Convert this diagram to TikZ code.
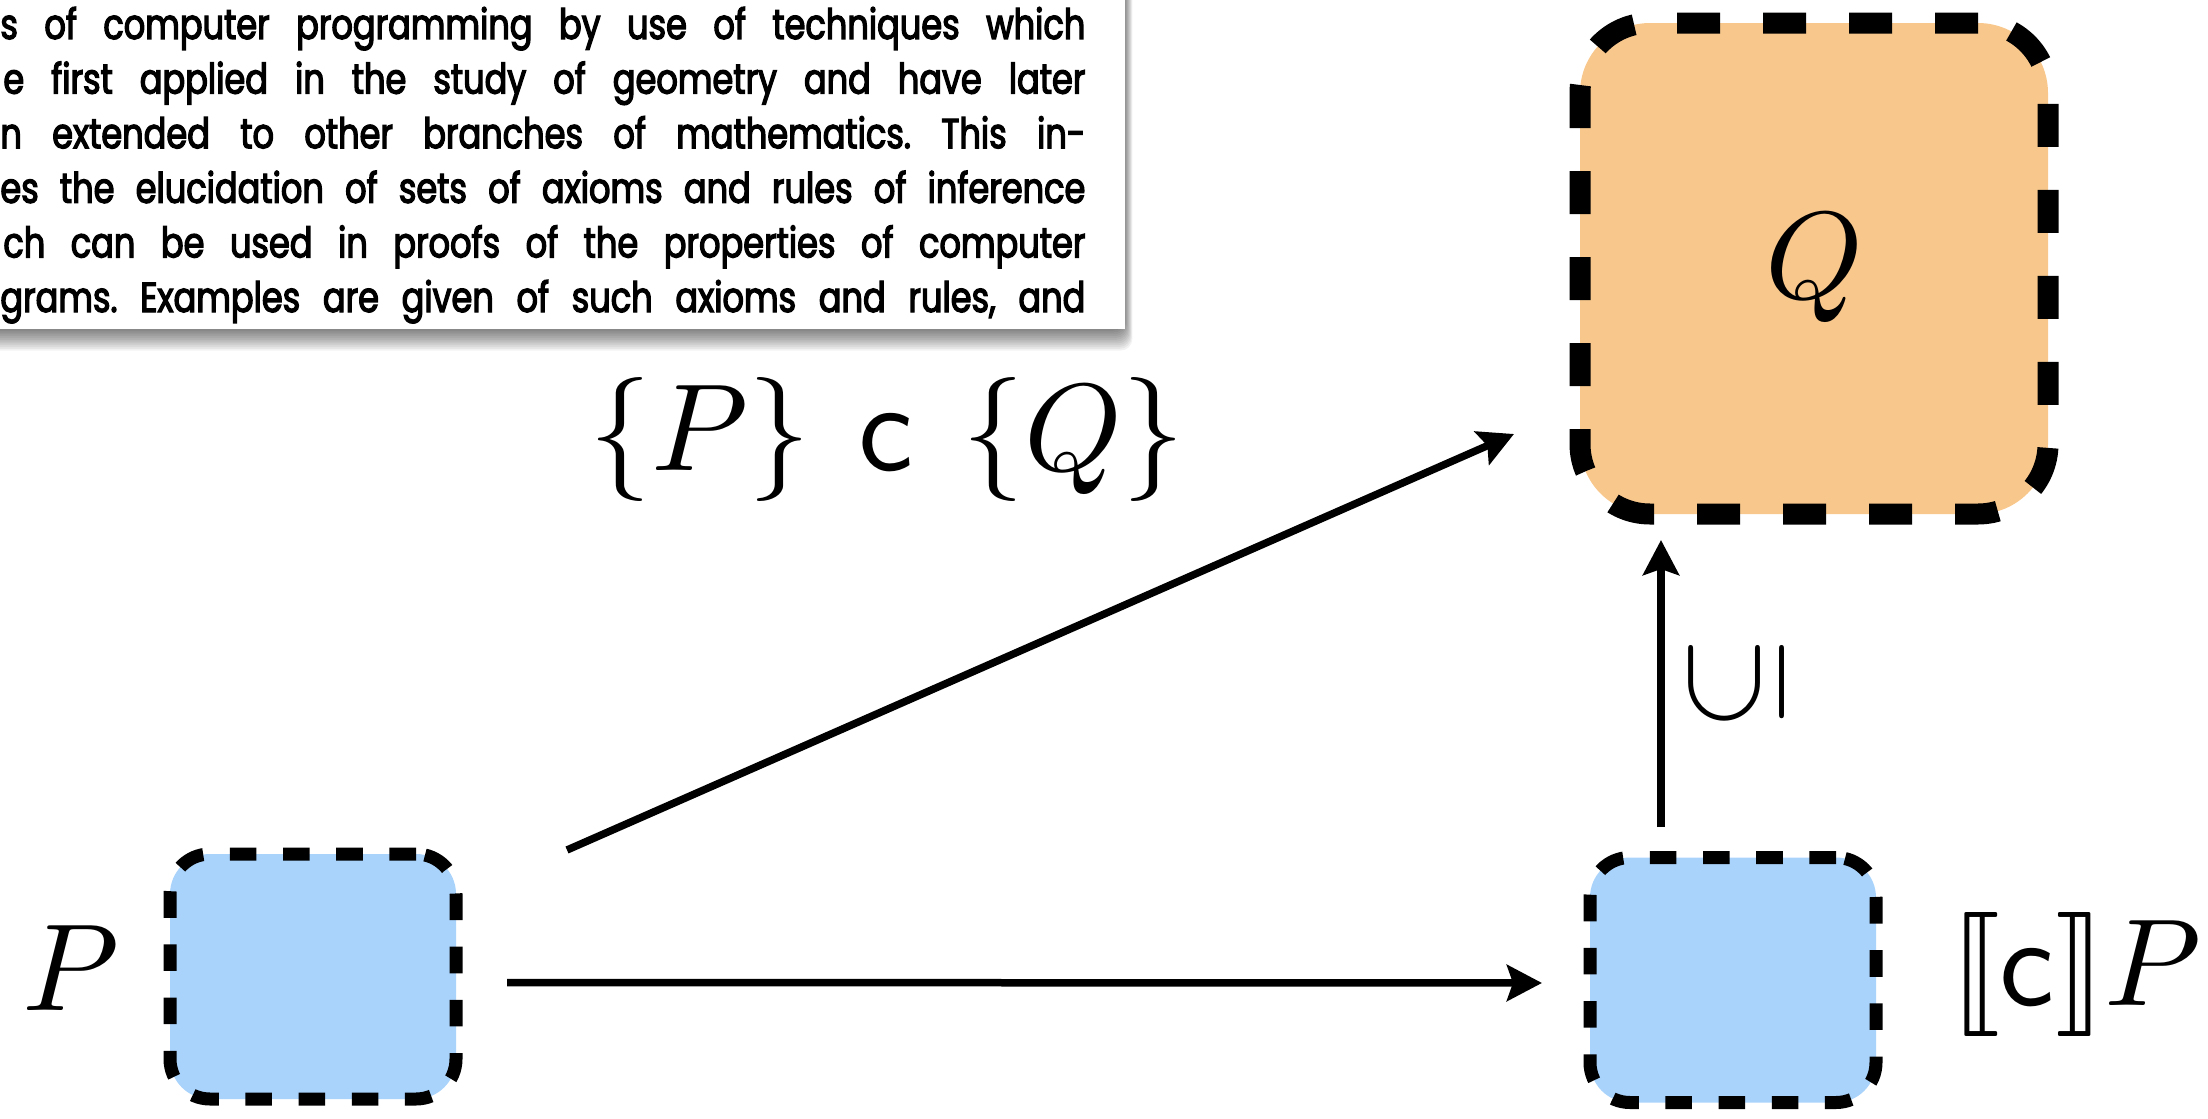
\documentclass[tikz,border=0pt]{standalone}
\usepackage{fontspec}
\usepackage{stmaryrd}
\usepackage{graphicx}
\usetikzlibrary{arrows.meta,calc}
\newfontfamily\futura[FakeStretch=0.80,FakeBold=3]{Poppins}
\definecolor{qorange}{RGB}{248,199,140}
\definecolor{pblue}{RGB}{169,211,251}
\tikzset{
  bigbox/.style={draw=black, fill=qorange, line width=10.5pt, dash pattern=on 21.5pt off 21.5pt,
    rounded corners=35pt, minimum width=234pt, minimum height=245.5pt, inner sep=0pt, outer sep=0pt},
  smallbox/.style={draw=black, fill=pblue, line width=6.5pt, dash pattern=on 13.3pt off 13.3pt,
    rounded corners=20pt, minimum width=143pt, minimum height=122.5pt, inner sep=0pt, outer sep=0pt},
  arr/.style={line width=3.75pt, -{Stealth[length=17.5pt,width=18pt,inset=3pt]}},
  mathlab/.style={inner sep=0pt, outer sep=0pt},
  txtline/.style={anchor=base west, inner sep=0pt, font=\futura\fontsize{21}{24}\selectfont\frenchspacing}
}
\begin{document}
\begin{tikzpicture}[x=0.5pt,y=-0.5pt]
\useasboundingbox (0,0) rectangle (2208,1119);
% text box shadow
\foreach \i in {1,...,12}{
  \fill[black, opacity=0.05, rounded corners=6pt] (-30,-30) rectangle (1124+\i*0.7, 329+\i*1.8);
}
\fill[white] (-30,-30) rectangle (1125,329);
\node[txtline] (t1) at (0,39) {\makebox[542.5pt][s]{s of computer programming by use of techniques which}};
\node[txtline] (t2) at (3,93.6) {\makebox[541pt][s]{e first applied in the study of geometry and have later}};
\node[txtline] (t3) at (0,148.2) {\makebox[542.5pt][s]{n extended to other branches of mathematics. This in-}};
\node[txtline] (t4) at (0,202.8) {\makebox[542.5pt][s]{es the elucidation of sets of axioms and rules of inference}};
\node[txtline] (t5) at (3,257.4) {\makebox[541pt][s]{ch can be used in proofs of the properties of computer}};
\node[txtline] (t6) at (0,312) {\makebox[542.5pt][s]{grams. Examples are given of such axioms and rules, and}};
% boxes
\node[bigbox] (qbox) at (1814,268.5) {\scalebox{6.2}{$Q$}};
\node[smallbox] (pbox) at (313,976.5) {};
\node[smallbox] (cbox) at (1733,980) {};
% labels
\node[mathlab, anchor=base west] (plab) at (22,1010) {\scalebox{6.2}{$P$}};
\node[mathlab, anchor=base west] (cplab) at (1950,1005) {\scalebox{6.2}{$\llbracket\mathsf{c}\rrbracket P$}};
\node[mathlab, anchor=base] (hoare) at (887,470) {\scalebox{6.2}{$\{P\}\mkern7mu\mathsf{c}\mkern7mu\{Q\}$}};
\node[mathlab, rotate=90] (sub) at (1736,683) {\scalebox{6.2}{$\subseteq$}};
% arrows
\draw[arr] ([yshift=-3pt]pbox.east) -- ([yshift=-1.5pt]cbox.west) [shorten <=25.5pt, shorten >=24pt];
\draw[arr] ($(pbox.north east)+(111,-4)$) -- ($(qbox.south west)+(-66,-80)$);
\draw[arr] ($(cbox.north)+(-72,-30.5)$) -- ($(qbox.south)+(-153,26)$);
\end{tikzpicture}
\end{document}
